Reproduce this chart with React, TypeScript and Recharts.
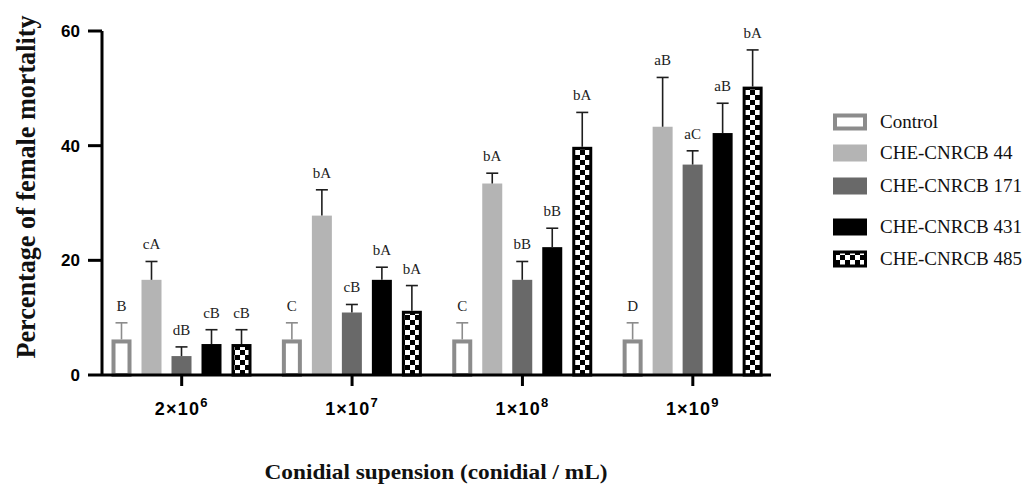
import React from 'react';
import { BarChart, Bar, XAxis, YAxis, Legend, Label } from 'recharts';

// concentrations on the x axis
const concentrations = ['2e6', '1e7', '1e8', '1e9'];
const tickBase = ['2×10', '1×10', '1×10', '1×10'];
const tickExp = ['6', '7', '8', '9'];

const seriesNames = ['Control', 'CHE-CNRCB 44', 'CHE-CNRCB 171', 'CHE-CNRCB 431', 'CHE-CNRCB 485'];

// mean mortality (%)
const control = [6.2, 6.2, 6.2, 6.2];
const cnrcb44 = [16.6, 27.8, 33.4, 43.3];
const cnrcb171 = [3.3, 10.9, 16.6, 36.7];
const cnrcb431 = [5.4, 16.6, 22.3, 42.2];
const cnrcb485 = [5.4, 11.2, 39.8, 50.3];

// standard error (upper whisker)
const controlErr = [2.9, 2.9, 2.9, 2.9];
const cnrcb44Err = [3.2, 4.5, 1.8, 8.6];
const cnrcb171Err = [1.6, 1.4, 3.2, 2.4];
const cnrcb431Err = [2.5, 2.2, 3.3, 5.2];
const cnrcb485Err = [2.5, 4.4, 6.0, 6.4];

// significance letters
const controlLetters = ['B', 'C', 'C', 'D'];
const cnrcb44Letters = ['cA', 'bA', 'bA', 'aB'];
const cnrcb171Letters = ['dB', 'cB', 'bB', 'aC'];
const cnrcb431Letters = ['cB', 'bA', 'bB', 'aB'];
const cnrcb485Letters = ['cB', 'bA', 'bA', 'bA'];

const yTicks = [0, 20, 40, 60];

const values = [control, cnrcb44, cnrcb171, cnrcb431, cnrcb485];
const errors = [controlErr, cnrcb44Err, cnrcb171Err, cnrcb431Err, cnrcb485Err];
const letters = [controlLetters, cnrcb44Letters, cnrcb171Letters, cnrcb431Letters, cnrcb485Letters];

const data = concentrations.map((c, ci) => {
  const row: any = { name: c };
  values.forEach((arr, si) => {
    row[`s${si}`] = arr[ci];
    row[`e${si}`] = errors[si][ci];
    row[`l${si}`] = letters[si][ci];
  });
  return row;
});

const SERIF = '"Palatino Linotype", "Book Antiqua", Palatino, "Liberation Serif", serif';
const SANS = 'Arial, "Liberation Sans", sans-serif';

const styles = [
  { fill: '#ffffff', stroke: '#8c8c8c', sw: 4, err: '#8c8c8c' },
  { fill: '#b4b4b4', stroke: 'none', sw: 0, err: '#1e1e1e' },
  { fill: '#696969', stroke: 'none', sw: 0, err: '#1e1e1e' },
  { fill: '#000000', stroke: 'none', sw: 0, err: '#1e1e1e' },
  { fill: 'url(#checker)', stroke: '#000000', sw: 3, err: '#1e1e1e' },
];

const makeShape = (i: number) => (props: any) => {
  const { x, y, width, height, payload } = props;
  const v = payload[`s${i}`];
  const e = payload[`e${i}`];
  const st = styles[i];
  const ppu = height / v;
  const top = y - e * ppu;
  const cx = x + width / 2;
  const half = st.sw / 2;
  return (
    <g>
      <rect
        x={x + half}
        y={y + half}
        width={width - st.sw}
        height={Math.max(0, height - half)}
        fill={st.fill}
        stroke={st.stroke}
        strokeWidth={st.sw}
      />
      <line x1={cx} y1={y} x2={cx} y2={top} stroke={st.err} strokeWidth={1.6} />
      <line x1={cx - 6} y1={top} x2={cx + 6} y2={top} stroke={st.err} strokeWidth={1.6} />
      <text x={cx} y={top - 12} textAnchor="middle" fontFamily={SERIF} fontSize={15} fill="#222">
        {payload[`l${i}`]}
      </text>
    </g>
  );
};

const XTick = (props: any) => {
  const { x, y, index } = props;
  return (
    <text
      x={x}
      y={y + 27}
      textAnchor="middle"
      fontFamily={SANS}
      fontWeight="bold"
      fontSize={18}
      letterSpacing={1.2}
      fill="#000"
    >
      <tspan>{tickBase[index]}</tspan>
      <tspan dy={-8} fontSize={13}>{tickExp[index]}</tspan>
    </text>
  );
};

const rowCenters = [22, 53, 86, 127, 159];

const LegendBox = () => (
  <svg width={210} height={180}>
    {seriesNames.map((n, i) => {
      const st = styles[i];
      const cy = rowCenters[i];
      const half = st.sw / 2;
      return (
        <g key={n}>
          <rect
            x={8 + half}
            y={cy - 8.5 + half}
            width={34 - st.sw}
            height={17 - st.sw}
            fill={st.fill}
            stroke={st.stroke}
            strokeWidth={st.sw}
          />
          <text x={55} y={cy + 6} fontFamily={SERIF} fontSize={19} fill="#111">
            {n}
          </text>
        </g>
      );
    })}
  </svg>
);

const YTitle = (props: any) => {
  const vb = props.viewBox;
  const cx = 35;
  const cy = vb.y + vb.height / 2 - 16;
  return (
    <text
      x={cx}
      y={cy}
      transform={`rotate(-90, ${cx}, ${cy})`}
      textAnchor="middle"
      fontFamily={SERIF}
      fontWeight="bold"
      fontSize={27}
      textLength={343}
      lengthAdjust="spacingAndGlyphs"
      fill="#111"
    >
      Percentage of female mortality
    </text>
  );
};

export default function App() {
  return (
    <div style={{ position: 'absolute', left: 0, top: 0, width: 1035, height: 488, background: '#fff' }}>
      <svg width={0} height={0} style={{ position: 'absolute' }}>
        <defs>
          <pattern id="checker" patternUnits="userSpaceOnUse" width={10} height={10}>
            <rect x={0} y={0} width={10} height={10} fill="#fff" />
            <rect x={0} y={0} width={5} height={5} fill="#000" />
            <rect x={5} y={5} width={5} height={5} fill="#000" />
          </pattern>
        </defs>
      </svg>
      <BarChart
        width={1035}
        height={488}
        data={data}
        margin={{ top: 31, right: 264, bottom: 0, left: 0 }}
        barSize={20}
        barGap={10}
      >
        <XAxis
          dataKey="name"
          height={113}
          padding={{ left: -5.5, right: -7 }}
          axisLine={{ stroke: '#000', strokeWidth: 3 }}
          tickLine={{ stroke: '#000', strokeWidth: 3 }}
          tickSize={11}
          tickMargin={2}
          tick={<XTick />}
          interval={0}
        />
        <YAxis
          width={102}
          domain={[0, 60]}
          ticks={yTicks}
          axisLine={{ stroke: '#000', strokeWidth: 3 }}
          tickLine={{ stroke: '#000', strokeWidth: 3 }}
          tickSize={14}
          tickMargin={8}
          tick={{ fontFamily: SANS, fontWeight: 'bold', fontSize: 17, fill: '#000' }}
        >
          <Label content={<YTitle />} />
        </YAxis>
        <Legend
          layout="vertical"
          align="center"
          verticalAlign="middle"
          content={<LegendBox />}
          wrapperStyle={{ left: 825, top: 100, width: 210 }}
        />
        {seriesNames.map((n, i) => (
          <Bar key={n} dataKey={`s${i}`} name={n} shape={makeShape(i)} isAnimationActive={false} />
        ))}
        <text
          x={436}
          y={479}
          textAnchor="middle"
          fontFamily={SERIF}
          fontWeight="bold"
          fontSize={21}
          textLength={343}
          lengthAdjust="spacingAndGlyphs"
          fill="#111"
        >
          Conidial supension (conidial / mL)
        </text>
      </BarChart>
    </div>
  );
}
